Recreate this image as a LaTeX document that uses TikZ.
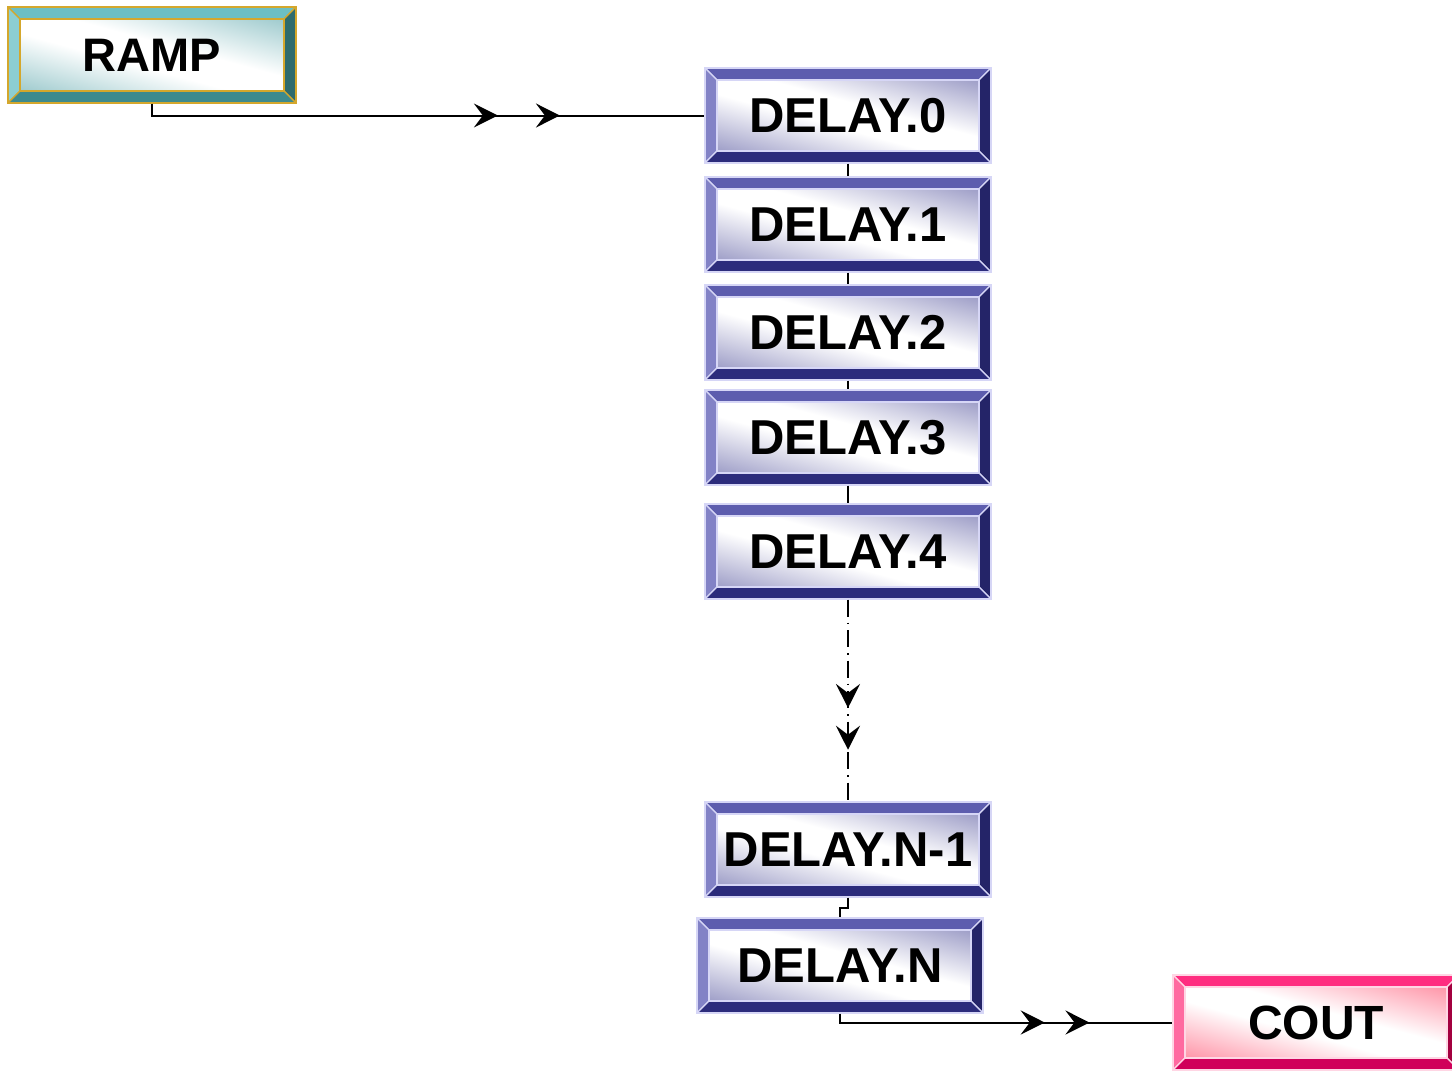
\documentclass[tikz,border=0pt]{standalone}
\usepackage{fontspec}
\setmainfont{Liberation Sans}
\usetikzlibrary{arrows.meta, decorations.markings}
% bevel colours: top, left, right, bottom, inner shade, outline
\definecolor{rampTop}{RGB}{108, 191, 195}
\definecolor{rampLeft}{RGB}{140, 206, 210}
\definecolor{rampRight}{RGB}{46, 107, 109}
\definecolor{rampBottom}{RGB}{61, 138, 142}
\definecolor{rampShade}{RGB}{84, 162, 168}
\definecolor{rampLine}{RGB}{212, 167, 44}
\definecolor{delayTop}{RGB}{93, 93, 174}
\definecolor{delayLeft}{RGB}{130, 130, 198}
\definecolor{delayRight}{RGB}{36, 36, 104}
\definecolor{delayBottom}{RGB}{44, 44, 124}
\definecolor{delayShade}{RGB}{82, 82, 156}
\definecolor{delayLine}{RGB}{214, 214, 246}
\definecolor{coutTop}{RGB}{255, 45, 128}
\definecolor{coutLeft}{RGB}{255, 106, 160}
\definecolor{coutRight}{RGB}{163, 0, 63}
\definecolor{coutBottom}{RGB}{208, 0, 90}
\definecolor{coutShade}{RGB}{255, 66, 100}
\definecolor{coutLine}{RGB}{255, 214, 228}

% fill: colour in the lower left and upper right corners, white between;
% tilted by atan(h/w) so the white band runs corner to corner
\colorlet{bevelFill}{white}
\pgfdeclareverticalshading[bevelFill]{bevelshade}{100bp}{color(0bp)=(bevelFill);
  color(44bp)=(white); color(56bp)=(white); color(100bp)=(bevelFill)}

\tikzset{
  >={Stealth[length=12pt, width=12pt, inset=4.5pt]},
  bevelbox/.style={rectangle, inner sep=0pt, minimum width=143pt, minimum height=47.5pt,
    draw=#1Line, line width=0.6pt, font=\fontsize{24.5}{28}\selectfont\bfseries,
    path picture={
      \fill[#1Top, draw=#1Line, line width=0.6pt] (path picture bounding box.north west)
        -- (path picture bounding box.north east)
        -- ([shift={(-6pt,-6pt)}]path picture bounding box.north east)
        -- ([shift={(6pt,-6pt)}]path picture bounding box.north west) -- cycle;
      \fill[#1Left, draw=#1Line, line width=0.6pt] (path picture bounding box.north west)
        -- ([shift={(6pt,-6pt)}]path picture bounding box.north west)
        -- ([shift={(6pt,6pt)}]path picture bounding box.south west)
        -- (path picture bounding box.south west) -- cycle;
      \fill[#1Right, draw=#1Line, line width=0.6pt] (path picture bounding box.north east)
        -- (path picture bounding box.south east)
        -- ([shift={(-6pt,6pt)}]path picture bounding box.south east)
        -- ([shift={(-6pt,-6pt)}]path picture bounding box.north east) -- cycle;
      \fill[#1Bottom, draw=#1Line, line width=0.6pt] (path picture bounding box.south west)
        -- ([shift={(6pt,6pt)}]path picture bounding box.south west)
        -- ([shift={(-6pt,6pt)}]path picture bounding box.south east)
        -- (path picture bounding box.south east) -- cycle;
      \colorlet{bevelFill}{#1Shade}
      \shade[shading=bevelshade, shading angle=-15.2]
        ([shift={(6pt,-6pt)}]path picture bounding box.north west)
        rectangle ([shift={(-6pt,6pt)}]path picture bounding box.south east);
      \draw[#1Line, line width=0.6pt]
        ([shift={(6pt,-6pt)}]path picture bounding box.north west)
        rectangle ([shift={(-6pt,6pt)}]path picture bounding box.south east);
    }},
  wire/.style={line width=1pt, black},
  twoheads/.style 2 args={postaction={decorate}, decoration={markings,
    mark=at position #1 with {\arrow{>}},
    mark=at position #2 with {\arrow{>}}}},
  dashdot/.style={dash pattern=on 8.5pt off 3pt on 0.75pt off 3pt}
}

\begin{document}
\begin{tikzpicture}[x=0.5pt, y=-0.5pt]
  \useasboundingbox (0,0) rectangle (1452,1071);

  % source and sink blocks (the sink runs past the right edge)
  \node[bevelbox=ramp, minimum width=144pt, minimum height=48pt,
        font=\fontsize{23.5}{28}\selectfont\bfseries] (ramp) at (152,55) {RAMP};
  \node[bevelbox=cout, font=\fontsize{24}{28}\selectfont\bfseries] (cout) at (1316,1022.5) {COUT};

  % delay chain
  \foreach \i/\y in {0/115.5, 1/224.5, 2/332.5, 3/437.5, 4/551.5}
    \node[bevelbox=delay] (delay\i) at (848,\y) {DELAY.\i};
  \node[bevelbox=delay] (delayNm) at (848,849.5) {DELAY.N-1};
  \node[bevelbox=delay] (delayN) at (840,965.5) {DELAY.N};

  % links between the delay blocks
  \foreach \a/\b in {0/1, 1/2, 2/3, 3/4}
    \draw[wire] (delay\a.south) -- (delay\b.north);
  \draw[wire, dashdot, twoheads={0.537}{0.744}] (delay4.south) -- (delayNm.north);
  \draw[wire] (delayNm.south) -- ++(0,10) -| (delayN.north);

  % input and output wires
  \draw[wire, twoheads={0.634}{0.744}] (ramp.south) |- (delay0.west);
  \draw[wire, twoheads={0.626}{0.757}] (delayN.south) |- (cout.west);
\end{tikzpicture}
\end{document}
